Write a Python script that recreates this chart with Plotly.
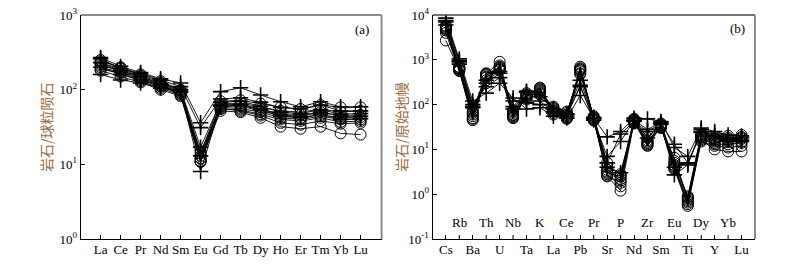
import plotly.graph_objects as go

# ---------------- data ----------------
ree = ["La", "Ce", "Pr", "Nd", "Sm", "Eu", "Gd", "Tb", "Dy", "Ho", "Er", "Tm", "Yb", "Lu"]

ree_circle = [
    [240, 200, 160, 130, 100, 14, 70, 72, 65, 58, 55, 62, 58, 58],
    [230, 190, 150, 120, 95, 12, 65, 66, 58, 52, 50, 55, 50, 52],
    [210, 180, 145, 115, 92, 13, 62, 62, 55, 48, 46, 50, 45, 46],
    [250, 195, 155, 125, 98, 11, 60, 60, 52, 45, 42, 46, 42, 43],
    [200, 170, 135, 110, 88, 15, 58, 56, 50, 42, 40, 44, 40, 40],
    [190, 165, 130, 105, 85, 11, 55, 54, 47, 40, 38, 42, 37, 38],
    [220, 175, 140, 112, 90, 12, 56, 52, 45, 36, 34, 38, 35, 36],
    [180, 150, 125, 100, 82, 10.8, 52, 50, 42, 32, 30, 32, 26, 25],
]
ree_plus = [
    [270, 205, 170, 140, 123, 36, 94, 106, 85, 69, 59, 69, 59, 59],
    [260, 190, 165, 135, 110, 31, 75, 78, 68, 58, 55, 62, 52, 52],
    [160, 135, 123, 105, 95, 8, 62, 64, 55, 46, 44, 50, 44, 44],
    [230, 180, 150, 120, 100, 17, 68, 70, 60, 50, 48, 54, 47, 48],
    [200, 160, 135, 115, 92, 13, 60, 62, 54, 44, 42, 47, 40, 41],
]

spider = ["Cs", "Rb", "Ba", "Th", "U", "Nb", "Ta", "K", "La", "Ce", "Pb", "Pr",
          "Sr", "P", "Nd", "Zr", "Sm", "Eu", "Ti", "Dy", "Y", "Yb", "Lu"]

spider_circle = [
    [5000, 650, 60, 480, 900, 55, 160, 220, 80, 60, 650, 50, 3.0, 2.5, 45, 14, 35, 4.5, 0.8, 20, 16, 20, 21],
    [4800, 620, 50, 450, 700, 60, 170, 200, 75, 55, 600, 48, 2.6, 1.8, 42, 13, 33, 4.0, 0.7, 18, 14, 17, 18],
    [2700, 580, 45, 400, 650, 52, 150, 230, 70, 50, 700, 46, 2.5, 1.2, 40, 12, 32, 3.6, 0.55, 16, 10, 9, 9],
    [5500, 680, 70, 500, 620, 65, 180, 190, 85, 65, 550, 52, 3.5, 2.2, 46, 15, 36, 5.0, 0.9, 22, 18, 16, 17],
    [4500, 600, 55, 420, 600, 58, 140, 210, 65, 52, 500, 45, 4.0, 2.8, 38, 16, 30, 6.5, 0.75, 17, 13, 13, 14],
    [5200, 640, 65, 350, 680, 70, 130, 180, 72, 58, 580, 50, 2.8, 1.5, 44, 12.5, 34, 3.8, 0.65, 19, 15, 15, 15],
    [4000, 560, 48, 470, 580, 50, 155, 240, 60, 48, 620, 44, 3.2, 2.0, 41, 14, 31, 4.2, 0.6, 15, 12, 11, 12],
    [5800, 700, 80, 300, 750, 75, 165, 170, 90, 70, 480, 55, 5.0, 2.6, 48, 18, 38, 5.5, 0.85, 21, 17, 18, 19],
]
spider_plus = [
    [8500, 1050, 120, 180, 300, 140, 80, 85, 55, 50, 160, 50, 19, 25, 50, 48, 42, 11, 7.0, 30, 25, 21, 20],
    [7500, 900, 100, 250, 400, 120, 110, 100, 65, 55, 270, 45, 7.0, 15, 45, 28, 40, 2.7, 4.5, 28, 22, 18, 18],
    [6000, 800, 90, 300, 500, 90, 200, 120, 70, 60, 350, 48, 5.0, 22, 42, 25, 38, 13, 5.0, 25, 20, 17, 16],
    [7000, 950, 85, 350, 550, 80, 190, 150, 80, 62, 250, 52, 4.0, 3.0, 44, 18, 36, 4.0, 4.8, 24, 19, 16, 15],
]

y_tick_vals_a = [1, 10, 100, 1000]
y_tick_text_a = ["10<sup>0</sup>", "10<sup>1</sup>", "10<sup>2</sup>", "10<sup>3</sup>"]
y_tick_vals_b = [0.1, 1, 10, 100, 1000, 10000]
y_tick_text_b = ["10<sup>-1</sup>", "10<sup>0</sup>", "10<sup>1</sup>", "10<sup>2</sup>",
                 "10<sup>3</sup>", "10<sup>4</sup>"]

# ---------------- figure ----------------
SERIF = "Liberation Serif"
CJK = "Noto Sans CJK SC"
TITLE_COLOR = "#9a6a3c"

fig = go.Figure()

circle_marker = dict(symbol="circle-open", size=11, color="black", line=dict(width=1, color="black"))
plus_marker = dict(symbol="cross-thin-open", size=11, color="black", line=dict(width=1.6, color="black"))


def add_series(xs, rows, marker, xa, ya):
    for row in rows:
        fig.add_trace(go.Scatter(
            x=list(range(len(xs))), y=row, mode="lines+markers",
            line=dict(color="black", width=0.9), marker=marker,
            xaxis=xa, yaxis=ya, showlegend=False, hoverinfo="skip"))


add_series(ree, ree_circle, circle_marker, "x", "y")
add_series(ree, ree_plus, plus_marker, "x", "y")
add_series(spider, spider_circle, circle_marker, "x2", "y2")
add_series(spider, spider_plus, plus_marker, "x2", "y2")

axis_common = dict(showgrid=False, zeroline=False, ticks="inside", ticklen=4,
                   tickcolor="black", tickwidth=1, automargin=False,
                   tickfont=dict(family=SERIF, size=13, color="black"))

fig.update_layout(
    width=794, height=265,
    margin=dict(l=81, r=39, t=15, b=26, autoexpand=False),
    paper_bgcolor="white", plot_bgcolor="white",
    hovermode=False,
    xaxis=dict(domain=[0, 0.446], range=[-0.98, 14.05],
               tickvals=list(range(len(ree))), ticktext=ree, ticklabelstandoff=-2,
               showline=True, linecolor="black", linewidth=1.3,
               **axis_common),
    yaxis=dict(type="log", range=[0, 3], tickvals=y_tick_vals_a, ticktext=y_tick_text_a,
               showline=True, linecolor="black", linewidth=1.3,
               **axis_common),
    xaxis2=dict(domain=[0.522, 1], range=[-0.97, 23.0], anchor="y2",
                tickvals=list(range(0, len(spider), 2)), ticktext=spider[0::2],
                ticklabelstandoff=-2,
                showline=True, linecolor="black", linewidth=1.3,
                **axis_common),
    yaxis2=dict(type="log", range=[-1, 4], anchor="x2",
                tickvals=y_tick_vals_b, ticktext=y_tick_text_b,
                showline=True, linecolor="black", linewidth=1.3,
                **axis_common),
)

annotations = []
# upper row labels in panel (b)
for i in range(1, len(spider), 2):
    annotations.append(dict(x=i, y=0.073, xref="x2", yref="y2 domain", text=spider[i],
                            showarrow=False, font=dict(family=SERIF, size=13, color="black"),
                            xanchor="center", yanchor="middle"))
annotations.append(dict(x=0.935, y=0.935, xref="x domain", yref="y domain", text="(a)",
                        showarrow=False, xanchor="center", yanchor="middle",
                        font=dict(family=SERIF, size=13, color="black")))
annotations.append(dict(x=0.945, y=0.94, xref="x2 domain", yref="y2 domain", text="(b)",
                        showarrow=False, xanchor="center", yanchor="middle",
                        font=dict(family=SERIF, size=13, color="black")))
annotations.append(dict(x=0, y=0.5, xref="x domain", yref="y domain", xshift=-35,
                        text="岩石/球粒陨石", textangle=-90, showarrow=False,
                        xanchor="center", yanchor="middle",
                        font=dict(family=CJK, size=14, color=TITLE_COLOR)))
annotations.append(dict(x=0, y=0.5, xref="x2 domain", yref="y2 domain", xshift=-32,
                        text="岩石/原始地幔", textangle=-90, showarrow=False,
                        xanchor="center", yanchor="middle",
                        font=dict(family=CJK, size=14, color=TITLE_COLOR)))
fig.update_layout(annotations=annotations)

# top/right frame lines
shapes = [
    dict(type="line", xref="x domain", yref="y domain", x0=0, x1=1, y0=1, y1=1,
         line=dict(color="#8c8c8c", width=2)),
    dict(type="line", xref="x domain", yref="y domain", x0=1, x1=1, y0=0, y1=1,
         line=dict(color="#8c8c8c", width=2)),
    dict(type="line", xref="x2 domain", yref="y2 domain", x0=0, x1=1, y0=1, y1=1,
         line=dict(color="#444444", width=1.3)),
    dict(type="line", xref="x2 domain", yref="y2 domain", x0=1, x1=1, y0=0, y1=1,
         line=dict(color="#8c8c8c", width=2)),
]
# inward ticks for odd (upper-row) categories in panel (b)
for i in range(1, len(spider), 2):
    shapes.append(dict(type="line", xref="x2", yref="y2 domain", x0=i, x1=i, y0=0, y1=0.018,
                       line=dict(color="black", width=1)))
fig.update_layout(shapes=shapes)

fig.write_html("out.html", config={"displayModeBar": False, "staticPlot": True},
               post_script="document.body.style.margin='0';document.body.style.overflow='hidden';")
